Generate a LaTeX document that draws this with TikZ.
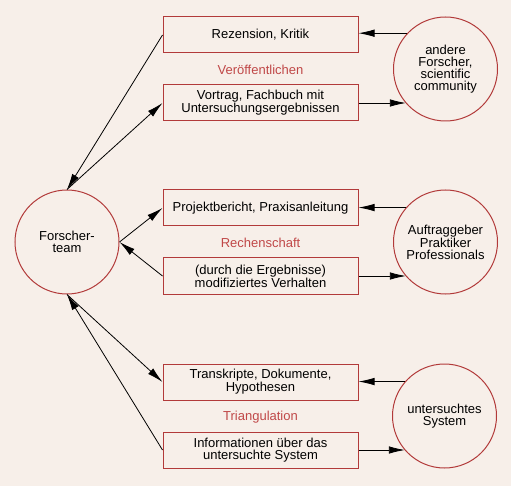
\documentclass[tikz,border=0pt]{standalone}
\usepackage{fontspec}
\setmainfont{Liberation Sans}
\usetikzlibrary{arrows.meta}
\definecolor{paper}{RGB}{247,239,233}
\definecolor{frame}{RGB}{178,58,58}
\definecolor{topictext}{RGB}{192,72,72}
\begin{document}
\begin{tikzpicture}[x=1pt,y=-1pt,
    font=\fontsize{13}{12}\selectfont,
    box/.style={draw=frame,line width=1pt,minimum width=195pt,minimum height=36pt,align=center,inner sep=0pt},
    party/.style={circle,draw=frame,line width=1pt,minimum size=104pt,align=center,inner sep=0pt},
    topic/.style={text=topictext},
    link/.style={line width=0.8pt,-{Latex[length=16pt,width=7.5pt]}}]
  \fill[paper] (0,0) rectangle (511,486);
  \useasboundingbox (0,0) rectangle (511,486);

  \node[party] (team) at (67,242) {Forscher-\\team};
  \node[party] (peers) at (445.5,69) {andere\\Forscher,\\scientific\\community};
  \node[party] (client) at (445.5,242) {Auftraggeber\\Praktiker\\Professionals};
  \node[party] (system) at (444.5,416) {untersuchtes\\System};

  \node[box] (review) at (260.5,35) {Rezension, Kritik};
  \node[topic] (publish) at (260.5,70) {Veröffentlichen};
  \node[box] (talk) at (260.5,103) {Vortrag, Fachbuch mit\\Untersuchungsergebnissen};

  \node[box] (report) at (260.5,208) {Projektbericht, Praxisanleitung};
  \node[topic] (account) at (260.5,243) {Rechenschaft};
  \node[box] (behaviour) at (260.5,276) {(durch die Ergebnisse)\\modifiziertes Verhalten};

  \node[box] (transcripts) at (260.5,382) {Transkripte, Dokumente,\\Hypothesen};
  \node[topic] (triangle) at (260.5,417) {Triangulation};
  \node[box] (info) at (260.5,450) {Informationen über das\\untersuchte System};

  % left side
  \draw[link] (review.west) -- (team.north);
  \draw[link] (team.north) -- (talk.west);
  \draw[link] (team.east) -- (report.west);
  \draw[link] (behaviour.west) -- (team.east);
  \draw[link] (team.south) -- (transcripts.west);
  \draw[link] (info.west) -- (team.south);

  % right side
  \draw[link] (peers.137) -- (peers.137 -| review.east);
  \draw[link] (talk.east) -- (talk.east -| peers.221);
  \draw[link] (client.139) -- (client.139 -| report.east);
  \draw[link] (behaviour.east) -- (behaviour.east -| client.221);
  \draw[link] (system.139) -- (system.139 -| transcripts.east);
  \draw[link] (info.east) -- (info.east -| system.221);
\end{tikzpicture}
\end{document}
